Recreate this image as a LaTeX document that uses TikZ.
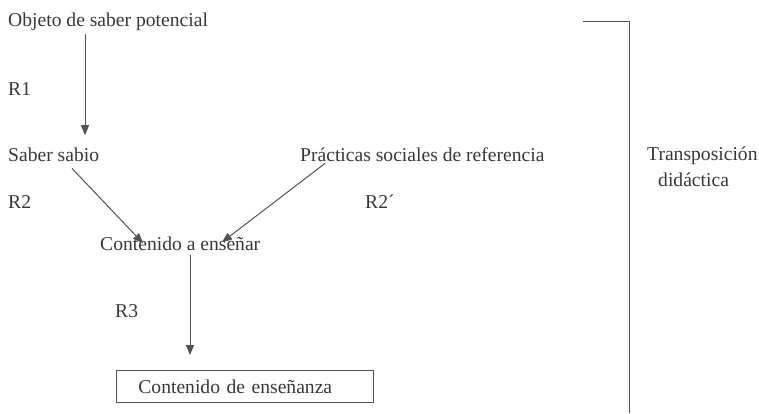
\documentclass[tikz,border=0pt]{standalone}
\usepackage{fontspec}
\setmainfont{Liberation Serif}
\usetikzlibrary{arrows.meta}
\definecolor{ink}{gray}{0.22}
\definecolor{wire}{gray}{0.32}

\begin{document}
\begin{tikzpicture}[x=1pt, y=-1pt,
    lbl/.style = {anchor=base west, inner sep=0pt, text=ink, font=\fontsize{19.6}{26}\selectfont},
    arr/.style = {draw=wire, line width=1pt, -{Triangle[length=10pt, width=8pt]}}]
    \useasboundingbox (0,0) rectangle (759,413);
    % levels of knowledge
    \node[lbl] (obj) at (8,26) {Objeto de saber potencial};
    \node[lbl] (r1) at (8,95) {R1};
    \node[lbl] (sabio) at (8,161) {Saber sabio};
    \node[lbl] (prac) at (300,161) {Prácticas sociales de referencia};
    \node[lbl] (r2) at (8,208) {R2};
    \node[lbl] (r2b) at (365,208) {R2´};
    \node[lbl] (cont) at (100,250) {Contenido a enseñar};
    \node[lbl] (r3) at (115,317) {R3};
    \node[lbl, anchor=north west, draw=wire, line width=0.8pt, inner xsep=22pt,
          text width=213pt, minimum height=32pt, align=left] (ense) at (116,370) {Contenido de enseñanza};
    \node[lbl, align=left] (tdid) at (647,186) {Transposición\\\hspace*{11pt}didáctica};
    % arrows
    \draw[arr] ([xshift=77pt, yshift=-4pt]obj.south west) -- ([xshift=77pt, yshift=12pt]sabio.north west);
    \draw[arr] ([xshift=64pt, yshift=-7pt]sabio.south west) -- ([xshift=43pt, yshift=-7pt]cont.north west);
    \draw[arr] ([xshift=25pt, yshift=-2pt]prac.south west) -- ([xshift=122pt, yshift=-6pt]cont.north west);
    \draw[arr] ([xshift=90pt, yshift=-5pt]cont.south west) -- ([xshift=74pt, yshift=15pt]ense.north west);
    % bracket
    \coordinate (brl) at (583,21);
    \coordinate (brr) at (629,21);
    \coordinate (brb) at (629,413);
    \draw[wire, line width=1pt] (brl) -- (brr) -- (brb);
\end{tikzpicture}
\end{document}
